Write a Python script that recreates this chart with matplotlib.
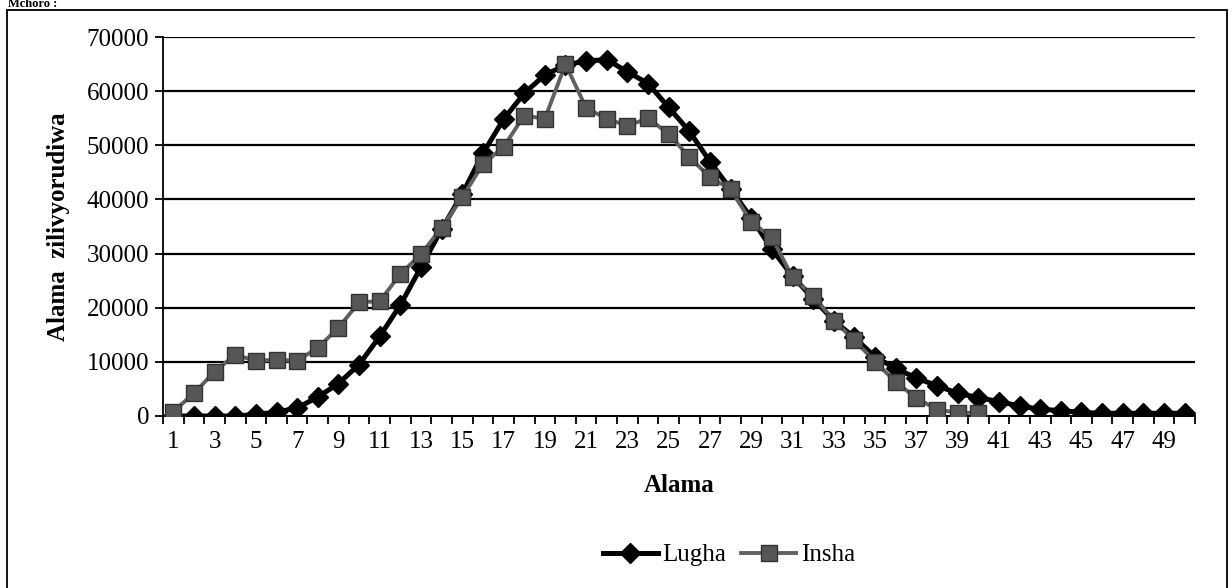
import numpy as np
import matplotlib
matplotlib.use("Agg")
import matplotlib.pyplot as plt
from matplotlib.patches import Rectangle

# ---- data ----
categories = list(range(1, 51))
lugha = [0, 0, 0, 0, 300, 700, 1500, 3500, 6000, 9500,
         14700, 20500, 27500, 34500, 41000, 48500, 54800, 59600, 63000, 64800,
         65600, 65800, 63600, 61400, 57000, 52600, 47000, 41900, 36600, 30800,
         25800, 21700, 17600, 14500, 10900, 8800, 7000, 5600, 4200, 3400,
         2650, 1850, 1250, 1000, 650, 500, 500, 500, 500, 500]
insha_categories = list(range(1, 41))
insha = [800, 4200, 8200, 11300, 10200, 10400, 10200, 12600, 16300, 21000,
         21200, 26200, 29900, 34800, 40400, 46500, 49700, 55500, 54900, 65000,
         56900, 54900, 53600, 55000, 52100, 47800, 44100, 41900, 35800, 33000,
         25600, 22200, 17600, 14000, 10000, 6300, 3300, 1200, 600, 600]
xtick_labels = [str(c) for c in categories if c % 2 == 1]
yticks = [0, 10000, 20000, 30000, 40000, 50000, 60000, 70000]

plt.rcParams['font.family'] = ['Liberation Serif', 'DejaVu Serif']

W, H = 1232, 588
fig = plt.figure(figsize=(W / 100, H / 100), dpi=100)

# outer border of chart area
fig.patches.append(Rectangle((7 / W, -0.05), (1227 - 7) / W, 1.05 - 10 / H,
                             transform=fig.transFigure, fill=False,
                             edgecolor='black', linewidth=1.3))
# caption at top (partly hidden in the scan)
fig.text(8 / W, 1 - 10 / H, "Mchoro :", fontsize=9, fontweight='bold',
         ha='left', va='bottom')

ax = fig.add_axes([163 / W, 1 - 416 / H, (1195 - 163) / W, (416 - 37) / H])

for v in yticks[1:]:
    ax.axhline(v, color='black', linewidth=1.6, zorder=1)

ax.plot(categories, lugha, color='black', linewidth=3.6, marker='D',
        markersize=10, markerfacecolor='black', markeredgecolor='black',
        label='Lugha', zorder=3)
ax.plot(insha_categories, insha, color='#606060', linewidth=2.8, marker='s',
        markersize=11, markerfacecolor='#565656', markeredgecolor='#333333',
        markeredgewidth=1.0, label='Insha', zorder=4)

ax.set_xlim(0.5, 50.5)
ax.set_ylim(0, 70000)
ax.set_yticks(yticks)
ax.set_yticklabels([str(v) for v in yticks])
ax.set_xticks([c for c in categories if c % 2 == 1])
ax.set_xticklabels(xtick_labels)
ax.set_xticks(np.arange(0.5, 51, 1.0), minor=True)
ax.tick_params(axis='x', which='major', length=0, labelsize=18, pad=11)
ax.tick_params(axis='x', which='minor', length=6, width=1.3, direction='out')
ax.tick_params(axis='y', which='major', length=6, width=1.3, direction='out',
               labelsize=18, pad=4)

for side in ['top', 'right']:
    ax.spines[side].set_visible(False)
ax.spines['left'].set_linewidth(1.3)
ax.spines['bottom'].set_linewidth(1.5)

ax.set_xlabel('Alama', fontsize=18, fontweight='bold', labelpad=15)
ax.set_ylabel('Alama  zilivyorudiwa', fontsize=18, fontweight='bold', labelpad=12)

leg = fig.legend(loc='center', bbox_to_anchor=(729 / W, 1 - 555 / H), ncol=2,
                 frameon=False, fontsize=18, handlelength=2.2, handletextpad=0.2,
                 columnspacing=0.6)

fig.savefig('out.png', dpi=100)
